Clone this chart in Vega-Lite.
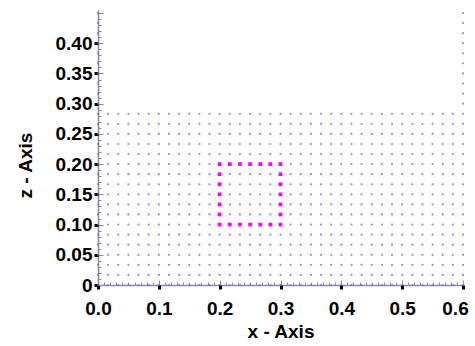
{
"$schema": "https://vega.github.io/schema/vega-lite/v6.json",
"width": 365, "height": 275,
"autosize": {"type": "none"},
"padding": {"left": 98, "top": 10, "right": 12, "bottom": 61},
"background": "white",
"config": {"view": {"stroke": null}, "axis": {"labelFont": "Liberation Sans", "titleFont": "Liberation Sans", "labelFontWeight": "bold", "titleFontWeight": "bold", "labelFontSize": 19, "titleFontSize": 19, "labelColor": "black", "titleColor": "black", "grid": false}},
"datasets": {
"grid": [
{"x":0,"z":0},{"x":0.0167,"z":0},{"x":0.0333,"z":0},{"x":0.05,"z":0},{"x":0.0667,"z":0},{"x":0.0833,"z":0},{"x":0.1,"z":0},{"x":0.1167,"z":0},{"x":0.1333,"z":0},{"x":0.15,"z":0},{"x":0.1667,"z":0},{"x":0.1833,"z":0},{"x":0.2,"z":0},{"x":0.2167,"z":0},{"x":0.2333,"z":0},{"x":0.25,"z":0},{"x":0.2667,"z":0},{"x":0.2833,"z":0},{"x":0.3,"z":0},{"x":0.3167,"z":0},{"x":0.3333,"z":0},{"x":0.35,"z":0},{"x":0.3667,"z":0},{"x":0.3833,"z":0},{"x":0.4,"z":0},{"x":0.4167,"z":0},{"x":0.4333,"z":0},{"x":0.45,"z":0},{"x":0.4667,"z":0},{"x":0.4833,"z":0},{"x":0.5,"z":0},{"x":0.5167,"z":0},{"x":0.5333,"z":0},{"x":0.55,"z":0},{"x":0.5667,"z":0},{"x":0.5833,"z":0},{"x":0.6,"z":0},
{"x":0,"z":0.0167},{"x":0.0167,"z":0.0167},{"x":0.0333,"z":0.0167},{"x":0.05,"z":0.0167},{"x":0.0667,"z":0.0167},{"x":0.0833,"z":0.0167},{"x":0.1,"z":0.0167},{"x":0.1167,"z":0.0167},{"x":0.1333,"z":0.0167},{"x":0.15,"z":0.0167},{"x":0.1667,"z":0.0167},{"x":0.1833,"z":0.0167},{"x":0.2,"z":0.0167},{"x":0.2167,"z":0.0167},{"x":0.2333,"z":0.0167},{"x":0.25,"z":0.0167},{"x":0.2667,"z":0.0167},{"x":0.2833,"z":0.0167},{"x":0.3,"z":0.0167},{"x":0.3167,"z":0.0167},{"x":0.3333,"z":0.0167},{"x":0.35,"z":0.0167},{"x":0.3667,"z":0.0167},{"x":0.3833,"z":0.0167},{"x":0.4,"z":0.0167},{"x":0.4167,"z":0.0167},{"x":0.4333,"z":0.0167},{"x":0.45,"z":0.0167},{"x":0.4667,"z":0.0167},{"x":0.4833,"z":0.0167},{"x":0.5,"z":0.0167},{"x":0.5167,"z":0.0167},{"x":0.5333,"z":0.0167},{"x":0.55,"z":0.0167},{"x":0.5667,"z":0.0167},{"x":0.5833,"z":0.0167},{"x":0.6,"z":0.0167},
{"x":0,"z":0.0333},{"x":0.0167,"z":0.0333},{"x":0.0333,"z":0.0333},{"x":0.05,"z":0.0333},{"x":0.0667,"z":0.0333},{"x":0.0833,"z":0.0333},{"x":0.1,"z":0.0333},{"x":0.1167,"z":0.0333},{"x":0.1333,"z":0.0333},{"x":0.15,"z":0.0333},{"x":0.1667,"z":0.0333},{"x":0.1833,"z":0.0333},{"x":0.2,"z":0.0333},{"x":0.2167,"z":0.0333},{"x":0.2333,"z":0.0333},{"x":0.25,"z":0.0333},{"x":0.2667,"z":0.0333},{"x":0.2833,"z":0.0333},{"x":0.3,"z":0.0333},{"x":0.3167,"z":0.0333},{"x":0.3333,"z":0.0333},{"x":0.35,"z":0.0333},{"x":0.3667,"z":0.0333},{"x":0.3833,"z":0.0333},{"x":0.4,"z":0.0333},{"x":0.4167,"z":0.0333},{"x":0.4333,"z":0.0333},{"x":0.45,"z":0.0333},{"x":0.4667,"z":0.0333},{"x":0.4833,"z":0.0333},{"x":0.5,"z":0.0333},{"x":0.5167,"z":0.0333},{"x":0.5333,"z":0.0333},{"x":0.55,"z":0.0333},{"x":0.5667,"z":0.0333},{"x":0.5833,"z":0.0333},{"x":0.6,"z":0.0333},
{"x":0,"z":0.05},{"x":0.0167,"z":0.05},{"x":0.0333,"z":0.05},{"x":0.05,"z":0.05},{"x":0.0667,"z":0.05},{"x":0.0833,"z":0.05},{"x":0.1,"z":0.05},{"x":0.1167,"z":0.05},{"x":0.1333,"z":0.05},{"x":0.15,"z":0.05},{"x":0.1667,"z":0.05},{"x":0.1833,"z":0.05},{"x":0.2,"z":0.05},{"x":0.2167,"z":0.05},{"x":0.2333,"z":0.05},{"x":0.25,"z":0.05},{"x":0.2667,"z":0.05},{"x":0.2833,"z":0.05},{"x":0.3,"z":0.05},{"x":0.3167,"z":0.05},{"x":0.3333,"z":0.05},{"x":0.35,"z":0.05},{"x":0.3667,"z":0.05},{"x":0.3833,"z":0.05},{"x":0.4,"z":0.05},{"x":0.4167,"z":0.05},{"x":0.4333,"z":0.05},{"x":0.45,"z":0.05},{"x":0.4667,"z":0.05},{"x":0.4833,"z":0.05},{"x":0.5,"z":0.05},{"x":0.5167,"z":0.05},{"x":0.5333,"z":0.05},{"x":0.55,"z":0.05},{"x":0.5667,"z":0.05},{"x":0.5833,"z":0.05},{"x":0.6,"z":0.05},
{"x":0,"z":0.0667},{"x":0.0167,"z":0.0667},{"x":0.0333,"z":0.0667},{"x":0.05,"z":0.0667},{"x":0.0667,"z":0.0667},{"x":0.0833,"z":0.0667},{"x":0.1,"z":0.0667},{"x":0.1167,"z":0.0667},{"x":0.1333,"z":0.0667},{"x":0.15,"z":0.0667},{"x":0.1667,"z":0.0667},{"x":0.1833,"z":0.0667},{"x":0.2,"z":0.0667},{"x":0.2167,"z":0.0667},{"x":0.2333,"z":0.0667},{"x":0.25,"z":0.0667},{"x":0.2667,"z":0.0667},{"x":0.2833,"z":0.0667},{"x":0.3,"z":0.0667},{"x":0.3167,"z":0.0667},{"x":0.3333,"z":0.0667},{"x":0.35,"z":0.0667},{"x":0.3667,"z":0.0667},{"x":0.3833,"z":0.0667},{"x":0.4,"z":0.0667},{"x":0.4167,"z":0.0667},{"x":0.4333,"z":0.0667},{"x":0.45,"z":0.0667},{"x":0.4667,"z":0.0667},{"x":0.4833,"z":0.0667},{"x":0.5,"z":0.0667},{"x":0.5167,"z":0.0667},{"x":0.5333,"z":0.0667},{"x":0.55,"z":0.0667},{"x":0.5667,"z":0.0667},{"x":0.5833,"z":0.0667},{"x":0.6,"z":0.0667},
{"x":0,"z":0.0833},{"x":0.0167,"z":0.0833},{"x":0.0333,"z":0.0833},{"x":0.05,"z":0.0833},{"x":0.0667,"z":0.0833},{"x":0.0833,"z":0.0833},{"x":0.1,"z":0.0833},{"x":0.1167,"z":0.0833},{"x":0.1333,"z":0.0833},{"x":0.15,"z":0.0833},{"x":0.1667,"z":0.0833},{"x":0.1833,"z":0.0833},{"x":0.2,"z":0.0833},{"x":0.2167,"z":0.0833},{"x":0.2333,"z":0.0833},{"x":0.25,"z":0.0833},{"x":0.2667,"z":0.0833},{"x":0.2833,"z":0.0833},{"x":0.3,"z":0.0833},{"x":0.3167,"z":0.0833},{"x":0.3333,"z":0.0833},{"x":0.35,"z":0.0833},{"x":0.3667,"z":0.0833},{"x":0.3833,"z":0.0833},{"x":0.4,"z":0.0833},{"x":0.4167,"z":0.0833},{"x":0.4333,"z":0.0833},{"x":0.45,"z":0.0833},{"x":0.4667,"z":0.0833},{"x":0.4833,"z":0.0833},{"x":0.5,"z":0.0833},{"x":0.5167,"z":0.0833},{"x":0.5333,"z":0.0833},{"x":0.55,"z":0.0833},{"x":0.5667,"z":0.0833},{"x":0.5833,"z":0.0833},{"x":0.6,"z":0.0833},
{"x":0,"z":0.1},{"x":0.0167,"z":0.1},{"x":0.0333,"z":0.1},{"x":0.05,"z":0.1},{"x":0.0667,"z":0.1},{"x":0.0833,"z":0.1},{"x":0.1,"z":0.1},{"x":0.1167,"z":0.1},{"x":0.1333,"z":0.1},{"x":0.15,"z":0.1},{"x":0.1667,"z":0.1},{"x":0.1833,"z":0.1},{"x":0.2,"z":0.1},{"x":0.2167,"z":0.1},{"x":0.2333,"z":0.1},{"x":0.25,"z":0.1},{"x":0.2667,"z":0.1},{"x":0.2833,"z":0.1},{"x":0.3,"z":0.1},{"x":0.3167,"z":0.1},{"x":0.3333,"z":0.1},{"x":0.35,"z":0.1},{"x":0.3667,"z":0.1},{"x":0.3833,"z":0.1},{"x":0.4,"z":0.1},{"x":0.4167,"z":0.1},{"x":0.4333,"z":0.1},{"x":0.45,"z":0.1},{"x":0.4667,"z":0.1},{"x":0.4833,"z":0.1},{"x":0.5,"z":0.1},{"x":0.5167,"z":0.1},{"x":0.5333,"z":0.1},{"x":0.55,"z":0.1},{"x":0.5667,"z":0.1},{"x":0.5833,"z":0.1},{"x":0.6,"z":0.1},
{"x":0,"z":0.1167},{"x":0.0167,"z":0.1167},{"x":0.0333,"z":0.1167},{"x":0.05,"z":0.1167},{"x":0.0667,"z":0.1167},{"x":0.0833,"z":0.1167},{"x":0.1,"z":0.1167},{"x":0.1167,"z":0.1167},{"x":0.1333,"z":0.1167},{"x":0.15,"z":0.1167},{"x":0.1667,"z":0.1167},{"x":0.1833,"z":0.1167},{"x":0.2,"z":0.1167},{"x":0.2167,"z":0.1167},{"x":0.2333,"z":0.1167},{"x":0.25,"z":0.1167},{"x":0.2667,"z":0.1167},{"x":0.2833,"z":0.1167},{"x":0.3,"z":0.1167},{"x":0.3167,"z":0.1167},{"x":0.3333,"z":0.1167},{"x":0.35,"z":0.1167},{"x":0.3667,"z":0.1167},{"x":0.3833,"z":0.1167},{"x":0.4,"z":0.1167},{"x":0.4167,"z":0.1167},{"x":0.4333,"z":0.1167},{"x":0.45,"z":0.1167},{"x":0.4667,"z":0.1167},{"x":0.4833,"z":0.1167},{"x":0.5,"z":0.1167},{"x":0.5167,"z":0.1167},{"x":0.5333,"z":0.1167},{"x":0.55,"z":0.1167},{"x":0.5667,"z":0.1167},{"x":0.5833,"z":0.1167},{"x":0.6,"z":0.1167},
{"x":0,"z":0.1333},{"x":0.0167,"z":0.1333},{"x":0.0333,"z":0.1333},{"x":0.05,"z":0.1333},{"x":0.0667,"z":0.1333},{"x":0.0833,"z":0.1333},{"x":0.1,"z":0.1333},{"x":0.1167,"z":0.1333},{"x":0.1333,"z":0.1333},{"x":0.15,"z":0.1333},{"x":0.1667,"z":0.1333},{"x":0.1833,"z":0.1333},{"x":0.2,"z":0.1333},{"x":0.2167,"z":0.1333},{"x":0.2333,"z":0.1333},{"x":0.25,"z":0.1333},{"x":0.2667,"z":0.1333},{"x":0.2833,"z":0.1333},{"x":0.3,"z":0.1333},{"x":0.3167,"z":0.1333},{"x":0.3333,"z":0.1333},{"x":0.35,"z":0.1333},{"x":0.3667,"z":0.1333},{"x":0.3833,"z":0.1333},{"x":0.4,"z":0.1333},{"x":0.4167,"z":0.1333},{"x":0.4333,"z":0.1333},{"x":0.45,"z":0.1333},{"x":0.4667,"z":0.1333},{"x":0.4833,"z":0.1333},{"x":0.5,"z":0.1333},{"x":0.5167,"z":0.1333},{"x":0.5333,"z":0.1333},{"x":0.55,"z":0.1333},{"x":0.5667,"z":0.1333},{"x":0.5833,"z":0.1333},{"x":0.6,"z":0.1333},
{"x":0,"z":0.15},{"x":0.0167,"z":0.15},{"x":0.0333,"z":0.15},{"x":0.05,"z":0.15},{"x":0.0667,"z":0.15},{"x":0.0833,"z":0.15},{"x":0.1,"z":0.15},{"x":0.1167,"z":0.15},{"x":0.1333,"z":0.15},{"x":0.15,"z":0.15},{"x":0.1667,"z":0.15},{"x":0.1833,"z":0.15},{"x":0.2,"z":0.15},{"x":0.2167,"z":0.15},{"x":0.2333,"z":0.15},{"x":0.25,"z":0.15},{"x":0.2667,"z":0.15},{"x":0.2833,"z":0.15},{"x":0.3,"z":0.15},{"x":0.3167,"z":0.15},{"x":0.3333,"z":0.15},{"x":0.35,"z":0.15},{"x":0.3667,"z":0.15},{"x":0.3833,"z":0.15},{"x":0.4,"z":0.15},{"x":0.4167,"z":0.15},{"x":0.4333,"z":0.15},{"x":0.45,"z":0.15},{"x":0.4667,"z":0.15},{"x":0.4833,"z":0.15},{"x":0.5,"z":0.15},{"x":0.5167,"z":0.15},{"x":0.5333,"z":0.15},{"x":0.55,"z":0.15},{"x":0.5667,"z":0.15},{"x":0.5833,"z":0.15},{"x":0.6,"z":0.15},
{"x":0,"z":0.1667},{"x":0.0167,"z":0.1667},{"x":0.0333,"z":0.1667},{"x":0.05,"z":0.1667},{"x":0.0667,"z":0.1667},{"x":0.0833,"z":0.1667},{"x":0.1,"z":0.1667},{"x":0.1167,"z":0.1667},{"x":0.1333,"z":0.1667},{"x":0.15,"z":0.1667},{"x":0.1667,"z":0.1667},{"x":0.1833,"z":0.1667},{"x":0.2,"z":0.1667},{"x":0.2167,"z":0.1667},{"x":0.2333,"z":0.1667},{"x":0.25,"z":0.1667},{"x":0.2667,"z":0.1667},{"x":0.2833,"z":0.1667},{"x":0.3,"z":0.1667},{"x":0.3167,"z":0.1667},{"x":0.3333,"z":0.1667},{"x":0.35,"z":0.1667},{"x":0.3667,"z":0.1667},{"x":0.3833,"z":0.1667},{"x":0.4,"z":0.1667},{"x":0.4167,"z":0.1667},{"x":0.4333,"z":0.1667},{"x":0.45,"z":0.1667},{"x":0.4667,"z":0.1667},{"x":0.4833,"z":0.1667},{"x":0.5,"z":0.1667},{"x":0.5167,"z":0.1667},{"x":0.5333,"z":0.1667},{"x":0.55,"z":0.1667},{"x":0.5667,"z":0.1667},{"x":0.5833,"z":0.1667},{"x":0.6,"z":0.1667},
{"x":0,"z":0.1833},{"x":0.0167,"z":0.1833},{"x":0.0333,"z":0.1833},{"x":0.05,"z":0.1833},{"x":0.0667,"z":0.1833},{"x":0.0833,"z":0.1833},{"x":0.1,"z":0.1833},{"x":0.1167,"z":0.1833},{"x":0.1333,"z":0.1833},{"x":0.15,"z":0.1833},{"x":0.1667,"z":0.1833},{"x":0.1833,"z":0.1833},{"x":0.2,"z":0.1833},{"x":0.2167,"z":0.1833},{"x":0.2333,"z":0.1833},{"x":0.25,"z":0.1833},{"x":0.2667,"z":0.1833},{"x":0.2833,"z":0.1833},{"x":0.3,"z":0.1833},{"x":0.3167,"z":0.1833},{"x":0.3333,"z":0.1833},{"x":0.35,"z":0.1833},{"x":0.3667,"z":0.1833},{"x":0.3833,"z":0.1833},{"x":0.4,"z":0.1833},{"x":0.4167,"z":0.1833},{"x":0.4333,"z":0.1833},{"x":0.45,"z":0.1833},{"x":0.4667,"z":0.1833},{"x":0.4833,"z":0.1833},{"x":0.5,"z":0.1833},{"x":0.5167,"z":0.1833},{"x":0.5333,"z":0.1833},{"x":0.55,"z":0.1833},{"x":0.5667,"z":0.1833},{"x":0.5833,"z":0.1833},{"x":0.6,"z":0.1833},
{"x":0,"z":0.2},{"x":0.0167,"z":0.2},{"x":0.0333,"z":0.2},{"x":0.05,"z":0.2},{"x":0.0667,"z":0.2},{"x":0.0833,"z":0.2},{"x":0.1,"z":0.2},{"x":0.1167,"z":0.2},{"x":0.1333,"z":0.2},{"x":0.15,"z":0.2},{"x":0.1667,"z":0.2},{"x":0.1833,"z":0.2},{"x":0.2,"z":0.2},{"x":0.2167,"z":0.2},{"x":0.2333,"z":0.2},{"x":0.25,"z":0.2},{"x":0.2667,"z":0.2},{"x":0.2833,"z":0.2},{"x":0.3,"z":0.2},{"x":0.3167,"z":0.2},{"x":0.3333,"z":0.2},{"x":0.35,"z":0.2},{"x":0.3667,"z":0.2},{"x":0.3833,"z":0.2},{"x":0.4,"z":0.2},{"x":0.4167,"z":0.2},{"x":0.4333,"z":0.2},{"x":0.45,"z":0.2},{"x":0.4667,"z":0.2},{"x":0.4833,"z":0.2},{"x":0.5,"z":0.2},{"x":0.5167,"z":0.2},{"x":0.5333,"z":0.2},{"x":0.55,"z":0.2},{"x":0.5667,"z":0.2},{"x":0.5833,"z":0.2},{"x":0.6,"z":0.2},
{"x":0,"z":0.2167},{"x":0.0167,"z":0.2167},{"x":0.0333,"z":0.2167},{"x":0.05,"z":0.2167},{"x":0.0667,"z":0.2167},{"x":0.0833,"z":0.2167},{"x":0.1,"z":0.2167},{"x":0.1167,"z":0.2167},{"x":0.1333,"z":0.2167},{"x":0.15,"z":0.2167},{"x":0.1667,"z":0.2167},{"x":0.1833,"z":0.2167},{"x":0.2,"z":0.2167},{"x":0.2167,"z":0.2167},{"x":0.2333,"z":0.2167},{"x":0.25,"z":0.2167},{"x":0.2667,"z":0.2167},{"x":0.2833,"z":0.2167},{"x":0.3,"z":0.2167},{"x":0.3167,"z":0.2167},{"x":0.3333,"z":0.2167},{"x":0.35,"z":0.2167},{"x":0.3667,"z":0.2167},{"x":0.3833,"z":0.2167},{"x":0.4,"z":0.2167},{"x":0.4167,"z":0.2167},{"x":0.4333,"z":0.2167},{"x":0.45,"z":0.2167},{"x":0.4667,"z":0.2167},{"x":0.4833,"z":0.2167},{"x":0.5,"z":0.2167},{"x":0.5167,"z":0.2167},{"x":0.5333,"z":0.2167},{"x":0.55,"z":0.2167},{"x":0.5667,"z":0.2167},{"x":0.5833,"z":0.2167},{"x":0.6,"z":0.2167},
{"x":0,"z":0.2333},{"x":0.0167,"z":0.2333},{"x":0.0333,"z":0.2333},{"x":0.05,"z":0.2333},{"x":0.0667,"z":0.2333},{"x":0.0833,"z":0.2333},{"x":0.1,"z":0.2333},{"x":0.1167,"z":0.2333},{"x":0.1333,"z":0.2333},{"x":0.15,"z":0.2333},{"x":0.1667,"z":0.2333},{"x":0.1833,"z":0.2333},{"x":0.2,"z":0.2333},{"x":0.2167,"z":0.2333},{"x":0.2333,"z":0.2333},{"x":0.25,"z":0.2333},{"x":0.2667,"z":0.2333},{"x":0.2833,"z":0.2333},{"x":0.3,"z":0.2333},{"x":0.3167,"z":0.2333},{"x":0.3333,"z":0.2333},{"x":0.35,"z":0.2333},{"x":0.3667,"z":0.2333},{"x":0.3833,"z":0.2333},{"x":0.4,"z":0.2333},{"x":0.4167,"z":0.2333},{"x":0.4333,"z":0.2333},{"x":0.45,"z":0.2333},{"x":0.4667,"z":0.2333},{"x":0.4833,"z":0.2333},{"x":0.5,"z":0.2333},{"x":0.5167,"z":0.2333},{"x":0.5333,"z":0.2333},{"x":0.55,"z":0.2333},{"x":0.5667,"z":0.2333},{"x":0.5833,"z":0.2333},{"x":0.6,"z":0.2333},
{"x":0,"z":0.25},{"x":0.0167,"z":0.25},{"x":0.0333,"z":0.25},{"x":0.05,"z":0.25},{"x":0.0667,"z":0.25},{"x":0.0833,"z":0.25},{"x":0.1,"z":0.25},{"x":0.1167,"z":0.25},{"x":0.1333,"z":0.25},{"x":0.15,"z":0.25},{"x":0.1667,"z":0.25},{"x":0.1833,"z":0.25},{"x":0.2,"z":0.25},{"x":0.2167,"z":0.25},{"x":0.2333,"z":0.25},{"x":0.25,"z":0.25},{"x":0.2667,"z":0.25},{"x":0.2833,"z":0.25},{"x":0.3,"z":0.25},{"x":0.3167,"z":0.25},{"x":0.3333,"z":0.25},{"x":0.35,"z":0.25},{"x":0.3667,"z":0.25},{"x":0.3833,"z":0.25},{"x":0.4,"z":0.25},{"x":0.4167,"z":0.25},{"x":0.4333,"z":0.25},{"x":0.45,"z":0.25},{"x":0.4667,"z":0.25},{"x":0.4833,"z":0.25},{"x":0.5,"z":0.25},{"x":0.5167,"z":0.25},{"x":0.5333,"z":0.25},{"x":0.55,"z":0.25},{"x":0.5667,"z":0.25},{"x":0.5833,"z":0.25},{"x":0.6,"z":0.25},
{"x":0,"z":0.2667},{"x":0.0167,"z":0.2667},{"x":0.0333,"z":0.2667},{"x":0.05,"z":0.2667},{"x":0.0667,"z":0.2667},{"x":0.0833,"z":0.2667},{"x":0.1,"z":0.2667},{"x":0.1167,"z":0.2667},{"x":0.1333,"z":0.2667},{"x":0.15,"z":0.2667},{"x":0.1667,"z":0.2667},{"x":0.1833,"z":0.2667},{"x":0.2,"z":0.2667},{"x":0.2167,"z":0.2667},{"x":0.2333,"z":0.2667},{"x":0.25,"z":0.2667},{"x":0.2667,"z":0.2667},{"x":0.2833,"z":0.2667},{"x":0.3,"z":0.2667},{"x":0.3167,"z":0.2667},{"x":0.3333,"z":0.2667},{"x":0.35,"z":0.2667},{"x":0.3667,"z":0.2667},{"x":0.3833,"z":0.2667},{"x":0.4,"z":0.2667},{"x":0.4167,"z":0.2667},{"x":0.4333,"z":0.2667},{"x":0.45,"z":0.2667},{"x":0.4667,"z":0.2667},{"x":0.4833,"z":0.2667},{"x":0.5,"z":0.2667},{"x":0.5167,"z":0.2667},{"x":0.5333,"z":0.2667},{"x":0.55,"z":0.2667},{"x":0.5667,"z":0.2667},{"x":0.5833,"z":0.2667},{"x":0.6,"z":0.2667},
{"x":0,"z":0.2833},{"x":0.0167,"z":0.2833},{"x":0.0333,"z":0.2833},{"x":0.05,"z":0.2833},{"x":0.0667,"z":0.2833},{"x":0.0833,"z":0.2833},{"x":0.1,"z":0.2833},{"x":0.1167,"z":0.2833},{"x":0.1333,"z":0.2833},{"x":0.15,"z":0.2833},{"x":0.1667,"z":0.2833},{"x":0.1833,"z":0.2833},{"x":0.2,"z":0.2833},{"x":0.2167,"z":0.2833},{"x":0.2333,"z":0.2833},{"x":0.25,"z":0.2833},{"x":0.2667,"z":0.2833},{"x":0.2833,"z":0.2833},{"x":0.3,"z":0.2833},{"x":0.3167,"z":0.2833},{"x":0.3333,"z":0.2833},{"x":0.35,"z":0.2833},{"x":0.3667,"z":0.2833},{"x":0.3833,"z":0.2833},{"x":0.4,"z":0.2833},{"x":0.4167,"z":0.2833},{"x":0.4333,"z":0.2833},{"x":0.45,"z":0.2833},{"x":0.4667,"z":0.2833},{"x":0.4833,"z":0.2833},{"x":0.5,"z":0.2833},{"x":0.5167,"z":0.2833},{"x":0.5333,"z":0.2833},{"x":0.55,"z":0.2833},{"x":0.5667,"z":0.2833},{"x":0.5833,"z":0.2833},{"x":0.6,"z":0.2833},
{"x":0,"z":0.3},{"x":0,"z":0.3167},{"x":0,"z":0.3333},{"x":0,"z":0.35},{"x":0,"z":0.3667},{"x":0,"z":0.3833},{"x":0,"z":0.4},{"x":0,"z":0.4167},{"x":0,"z":0.4333},{"x":0,"z":0.45},
{"x":0.6,"z":0.3},{"x":0.6,"z":0.3167},{"x":0.6,"z":0.3333},{"x":0.6,"z":0.35},{"x":0.6,"z":0.3667},{"x":0.6,"z":0.3833},{"x":0.6,"z":0.4},{"x":0.6,"z":0.4167},{"x":0.6,"z":0.4333},{"x":0.6,"z":0.45}
],
"sq": [
{"x":0.2,"z":0.1},{"x":0.2167,"z":0.1},{"x":0.2333,"z":0.1},{"x":0.25,"z":0.1},{"x":0.2667,"z":0.1},{"x":0.2833,"z":0.1},{"x":0.3,"z":0.1},
{"x":0.2,"z":0.2},{"x":0.2167,"z":0.2},{"x":0.2333,"z":0.2},{"x":0.25,"z":0.2},{"x":0.2667,"z":0.2},{"x":0.2833,"z":0.2},{"x":0.3,"z":0.2},
{"x":0.2,"z":0.1167},{"x":0.2,"z":0.1333},{"x":0.2,"z":0.15},{"x":0.2,"z":0.1667},{"x":0.2,"z":0.1833},
{"x":0.3,"z":0.1167},{"x":0.3,"z":0.1333},{"x":0.3,"z":0.15},{"x":0.3,"z":0.1667},{"x":0.3,"z":0.1833}
]
},
"layer": [
{
"data": {"name": "grid"},
"mark": {"type": "point", "filled": true, "size": 5, "color": "#6a6ae6", "opacity": 0.75, "clip": false},
"encoding": {
"x": {"field": "x", "type": "quantitative", "scale": {"domain": [0, 0.6], "nice": false, "zero": true},
 "axis": {"orient": "bottom", "values": [0,0.01,0.02,0.03,0.04,0.05,0.06,0.07,0.08,0.09,0.1,0.11,0.12,0.13,0.14,0.15,0.16,0.17,0.18,0.19,0.2,0.21,0.22,0.23,0.24,0.25,0.26,0.27,0.28,0.29,0.3,0.31,0.32,0.33,0.34,0.35,0.36,0.37,0.38,0.39,0.4,0.41,0.42,0.43,0.44,0.45,0.46,0.47,0.48,0.49,0.5,0.51,0.52,0.53,0.54,0.55,0.56,0.57,0.58,0.59,0.6],
  "labels": false, "title": null, "domainColor": "#8a8a9a", "domainWidth": 1.5, "tickColor": "#8a8a9a", "tickWidth": 1,
  "tickSize": {"condition": {"test": "abs(datum.value*10 - round(datum.value*10)) < 0.001", "value": -5}, "value": -3}}},
"y": {"field": "z", "type": "quantitative", "scale": {"domain": [0, 0.455], "nice": false, "zero": true},
 "axis": {"orient": "left", "values": [0,0.01,0.02,0.03,0.04,0.05,0.06,0.07,0.08,0.09,0.1,0.11,0.12,0.13,0.14,0.15,0.16,0.17,0.18,0.19,0.2,0.21,0.22,0.23,0.24,0.25,0.26,0.27,0.28,0.29,0.3,0.31,0.32,0.33,0.34,0.35,0.36,0.37,0.38,0.39,0.4,0.41,0.42,0.43,0.44,0.45],
  "labels": false, "title": null, "domainColor": "#8a8a9a", "domainWidth": 1.5, "tickColor": "#8a8a9a", "tickWidth": 1,
  "tickSize": {"condition": {"test": "abs(datum.value*20 - round(datum.value*20)) < 0.001", "value": -5}, "value": -3}}}
}
},
{
"data": {"name": "sq"},
"mark": {"type": "square", "size": 14, "color": "#ff00ff", "opacity": 1},
"encoding": {
"x": {"field": "x", "type": "quantitative", "scale": {"domain": [0, 0.6], "nice": false},
 "axis": {"orient": "bottom", "values": [0,0.1,0.2,0.3,0.4,0.5,0.6], "format": ".1f", "title": "x - Axis", "domain": false, "tickColor": "black", "tickSize": 4, "tickWidth": 3, "labelPadding": 10, "titlePadding": 4, "labelFlush": false,
  "labelOffset": {"condition": {"test": "datum.value > 0.55", "value": -8}, "value": 0}}},
"y": {"field": "z", "type": "quantitative", "scale": {"domain": [0, 0.455], "nice": false},
 "axis": {"orient": "left", "values": [0,0.05,0.1,0.15,0.2,0.25,0.3,0.35,0.4], "labelExpr": "datum.value == 0 ? '0' : format(datum.value, '.2f')", "title": "z - Axis", "domain": false, "tickColor": "black", "tickSize": 4, "tickWidth": 3, "labelPadding": 2, "titlePadding": 20, "titleY": 155, "labelFlush": false}}
}
}
],
"resolve": {"axis": {"x": "independent", "y": "independent"}}
}
